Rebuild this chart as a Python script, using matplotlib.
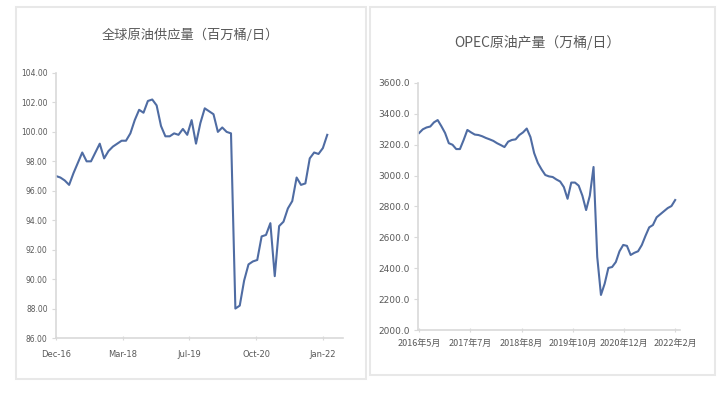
import matplotlib
matplotlib.use("Agg")
import matplotlib.pyplot as plt
import numpy as np
from matplotlib.patches import Rectangle

plt.rcParams['font.family'] = ['Noto Sans CJK SC', 'DejaVu Sans']

# global crude supply, monthly Dec-16 .. Feb-22 (million bbl/day)
supply = [97.0, 96.9, 96.7, 96.4, 97.2, 97.9, 98.6, 98.0, 98.0, 98.6,
          99.2, 98.2, 98.7, 99.0, 99.2, 99.4, 99.4, 99.9, 100.8, 101.5,
          101.3, 102.1, 102.2, 101.8, 100.4, 99.7, 99.7, 99.9, 99.8, 100.2,
          99.8, 100.8, 99.2, 100.6, 101.6, 101.4, 101.2, 100.0, 100.3, 100.0,
          99.9, 88.0, 88.2, 89.9, 91.0, 91.2, 91.3, 92.9, 93.0, 93.8,
          90.2, 93.6, 93.9, 94.8, 95.3, 96.9, 96.4, 96.5, 98.2, 98.6,
          98.5, 98.9, 99.8]
supply_ticks = ['Dec-16', 'Mar-18', 'Jul-19', 'Oct-20', 'Jan-22']
supply_yticks = [86, 88, 90, 92, 94, 96, 98, 100, 102, 104]

# OPEC crude output, monthly 2016-05 .. 2022-02 (10k bbl/day)
opec = [3276, 3300, 3312, 3318, 3345, 3360, 3320, 3276, 3210, 3200,
        3172, 3172, 3231, 3296, 3280, 3266, 3263, 3255, 3244, 3235,
        3225, 3210, 3198, 3185, 3220, 3231, 3235, 3263, 3280, 3305,
        3250, 3146, 3082, 3040, 3004, 2995, 2991, 2975, 2962, 2926,
        2850, 2955, 2955, 2935, 2870, 2777, 2870, 3056, 2473, 2227,
        2300, 2402, 2408, 2440, 2510, 2551, 2545, 2486, 2500, 2510,
        2550, 2610, 2665, 2680, 2730, 2750, 2770, 2790, 2803, 2842]
opec_ticks = ['2016年5月', '2017年7月', '2018年8月', '2019年10月',
              '2020年12月', '2022年2月']
opec_yticks = [2000, 2200, 2400, 2600, 2800, 3000, 3200, 3400, 3600]

W, H = 720, 394
LINE = '#4f6ca3'
GRID = '#d9d9d9'
TXT = '#595959'

fig = plt.figure(figsize=(W / 100, H / 100), dpi=100)


def px_axes(x0, y0, x1, y1):
    # axes from pixel box (top-left origin)
    return fig.add_axes([x0 / W, 1 - y1 / H, (x1 - x0) / W, (y1 - y0) / H])


def style(ax):
    for s in ['top', 'right']:
        ax.spines[s].set_visible(False)
    for s in ['left', 'bottom']:
        ax.spines[s].set_color(GRID)
        ax.spines[s].set_linewidth(1.2)
    ax.tick_params(axis='x', colors=GRID, labelcolor=TXT, length=3,
                   direction='inout', pad=7)
    ax.tick_params(axis='y', colors=GRID, labelcolor=TXT, length=3,
                   direction='out', pad=3)


# panel frames
fig.add_artist(Rectangle((16 / W, 1 - 379 / H), 350 / W, 372 / H,
                         transform=fig.transFigure, fill=False,
                         edgecolor='#e8e8e8', lw=1.5))
fig.add_artist(Rectangle((370 / W, 1 - 375 / H), 345 / W, 368 / H,
                         transform=fig.transFigure, fill=False,
                         edgecolor='#e8e8e8', lw=1.5))

# left chart
ax1 = px_axes(56, 73, 343, 338)
x1 = np.arange(len(supply))
ax1.plot(x1, supply, color=LINE, lw=1.5, solid_joinstyle='round')
ax1.set_ylim(86, 104)
ax1.set_xlim(0, 65.6)
ax1.set_yticks(supply_yticks)
ax1.set_yticklabels(['%.2f' % v for v in supply_yticks], fontsize=5.5,
                    family='Liberation Sans Narrow')
ax1.set_xticks(np.linspace(0, 61, len(supply_ticks)))
ax1.set_xticklabels(supply_ticks, fontsize=6, family='Liberation Sans Narrow')
style(ax1)
fig.text(190 / W, 1 - 35 / H, '全球原油供应量（百万桶/日）', ha='center',
         va='center', fontsize=9.5, color=TXT)

# right chart
ax2 = px_axes(418, 83, 680, 330)
x2 = np.arange(len(opec))
ax2.plot(x2, opec, color=LINE, lw=1.5, solid_joinstyle='round')
ax2.set_ylim(2000, 3600)
ax2.set_xlim(-0.3, 70.3)
ax2.set_yticks(opec_yticks)
ax2.set_yticklabels(['%.1f' % v for v in opec_yticks], fontsize=6.5,
                    family='Liberation Sans Narrow')
ax2.set_xticks(np.linspace(0, 69, len(opec_ticks)))
ax2.set_xticklabels(opec_ticks, fontsize=6.5)
style(ax2)
ax2.tick_params(axis='x', pad=5)
fig.text(537 / W, 1 - 42 / H, 'OPEC原油产量（万桶/日）', ha='center',
         va='center', fontsize=10, color=TXT)

fig.savefig('out.png', dpi=100)
